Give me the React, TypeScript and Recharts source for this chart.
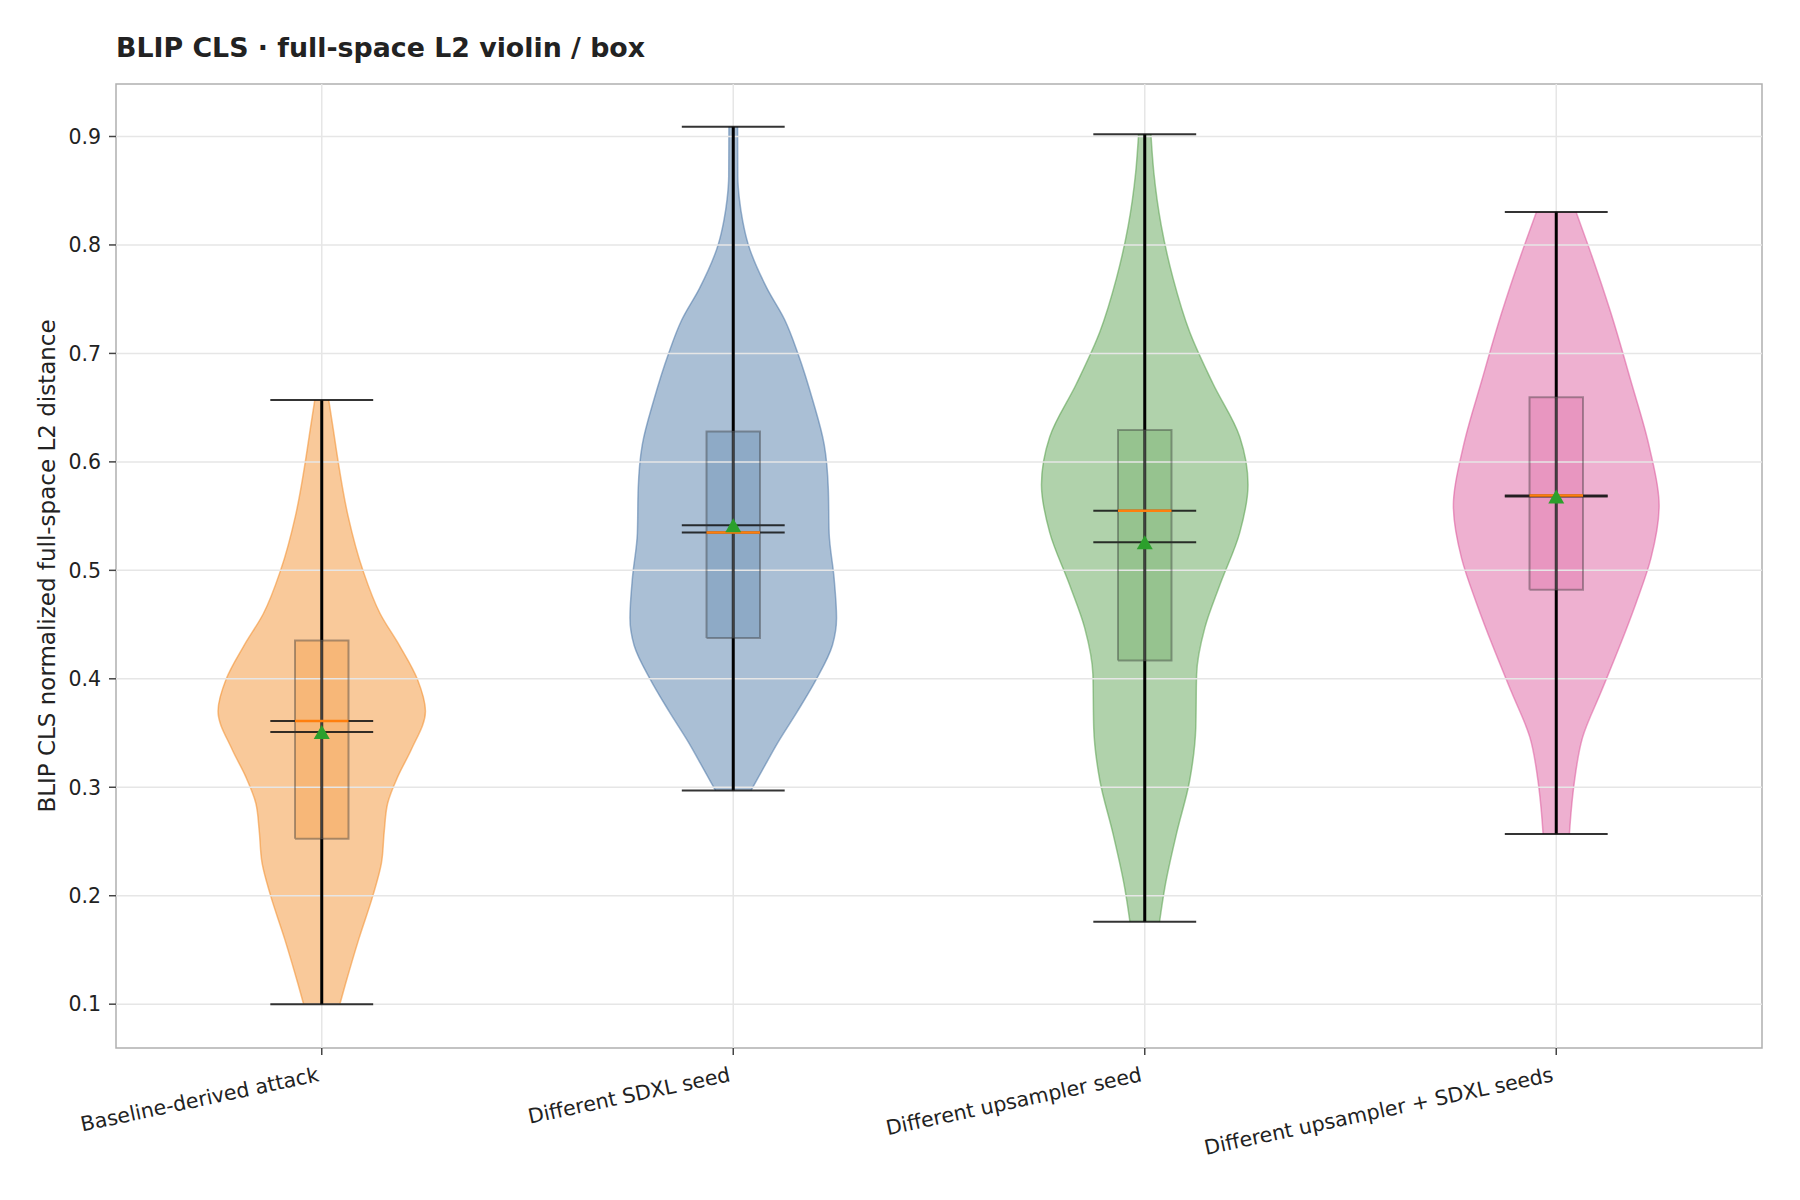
import React from 'react';
import { ComposedChart, Area, Line, XAxis, YAxis, ReferenceLine, ReferenceArea } from 'recharts';

const categories = [
  'Baseline-derived attack',
  'Different SDXL seed',
  'Different upsampler seed',
  'Different upsampler + SDXL seeds',
];
const colors = ['#f28e2b', '#4e79a7', '#59a14f', '#dc5a9c'];

// violin outlines: value -> half width (x units, max 0.25)
const baselineY = [0.1, 0.119, 0.16, 0.201, 0.23, 0.26, 0.285, 0.31, 0.335, 0.37, 0.4, 0.43, 0.46, 0.5, 0.55, 0.6, 0.63, 0.657];
const baselineHalf = [0.044, 0.058, 0.09, 0.125, 0.145, 0.152, 0.16, 0.185, 0.218, 0.252, 0.232, 0.19, 0.142, 0.1, 0.064, 0.04, 0.028, 0.017];

const sdxlY = [0.297, 0.316, 0.341, 0.37, 0.399, 0.431, 0.456, 0.493, 0.534, 0.575, 0.616, 0.657, 0.699, 0.731, 0.76, 0.801, 0.822, 0.842, 0.863, 0.909];
const sdxlHalf = [0.043, 0.071, 0.108, 0.156, 0.201, 0.241, 0.251, 0.245, 0.233, 0.231, 0.221, 0.193, 0.158, 0.125, 0.082, 0.036, 0.023, 0.015, 0.011, 0.0105];

const upY = [0.176, 0.208, 0.257, 0.306, 0.355, 0.404, 0.447, 0.486, 0.535, 0.579, 0.623, 0.672, 0.72, 0.769, 0.818, 0.867, 0.902];
const upHalf = [0.036, 0.049, 0.077, 0.109, 0.124, 0.126, 0.146, 0.182, 0.231, 0.251, 0.231, 0.166, 0.109, 0.069, 0.04, 0.022, 0.015];

const bothY = [0.257, 0.277, 0.305, 0.346, 0.388, 0.429, 0.47, 0.511, 0.56, 0.614, 0.675, 0.737, 0.798, 0.8305];
const bothHalf = [0.032, 0.036, 0.044, 0.064, 0.109, 0.153, 0.194, 0.23, 0.25, 0.226, 0.181, 0.133, 0.079, 0.048];

const violinYs = [baselineY, sdxlY, upY, bothY];
const violinHalves = [baselineHalf, sdxlHalf, upHalf, bothHalf];

const mins = [0.1, 0.297, 0.176, 0.257];
const maxs = [0.657, 0.909, 0.902, 0.8305];
const means = [0.351, 0.5415, 0.526, 0.568];
const medians = [0.361, 0.535, 0.555, 0.569];
const q1s = [0.2526, 0.4376, 0.4168, 0.482];
const q3s = [0.4354, 0.628, 0.6293, 0.6595];

const yTicks = [0.1, 0.2, 0.3, 0.4, 0.5, 0.6, 0.7, 0.8, 0.9];
const Y_MIN = 0.0596;
const Y_MAX = 0.9484;
const CAP = 0.125;
const BOX = 0.065;
const FONT = 'DejaVu Sans';

const XTick = (props: any) => {
  const { x, y, payload } = props;
  const label = categories[Math.round(payload.value) - 1];
  return (
    <text transform={`translate(${x - 2},${y + 24}) rotate(-12)`} textAnchor="end" fontSize={20.5} fontFamily={FONT} fill="#222">
      {label}
    </text>
  );
};

const Tri = (p: any) => {
  const { cx, cy, index } = p;
  if (cx == null || cy == null) return null;
  return <path key={index} d={`M${cx},${cy - 7} L${cx + 8},${cy + 7} L${cx - 8},${cy + 7} Z`} fill="#2ca02c" />;
};

const seg = (key: string, pts: { y: number; v: number }[], stroke: string, width: number, opacity = 1) => (
  <Line
    key={key}
    data={pts}
    dataKey="v"
    type="linear"
    stroke={stroke}
    strokeWidth={width}
    strokeOpacity={opacity}
    dot={false}
    activeDot={false}
    isAnimationActive={false}
  />
);

export default function App() {
  const positions = [1, 2, 3, 4];
  return (
    <div style={{ position: 'absolute', left: 0, top: 0, width: 1800, height: 1200, background: '#fff' }}>
      <div
        style={{
          position: 'absolute',
          left: 116,
          top: 34,
          fontFamily: FONT,
          fontWeight: 'bold',
          fontSize: 26.8,
          lineHeight: '27px',
          color: '#222',
          whiteSpace: 'nowrap',
        }}
      >
        BLIP CLS · full-space L2 violin / box
      </div>
      <div
        style={{
          position: 'absolute',
          left: 47,
          top: 566,
          transform: 'translate(-50%, -50%) rotate(-90deg)',
          fontFamily: FONT,
          fontSize: 23,
          color: '#222',
          whiteSpace: 'nowrap',
        }}
      >
        BLIP CLS normalized full-space L2 distance
      </div>
      <ComposedChart layout="vertical" width={1800} height={1200} margin={{ top: 84, right: 38, bottom: 0, left: 16 }}>
        <XAxis
          type="number"
          domain={[0.5, 4.5]}
          ticks={[1, 2, 3, 4]}
          allowDataOverflow
          height={152}
          axisLine={false}
          tickLine={{ stroke: '#444', strokeWidth: 1.5 }}
          tickSize={7}
          tick={<XTick />}
          interval={0}
        />
        <YAxis
          type="number"
          dataKey="y"
          reversed
          domain={[Y_MIN, Y_MAX]}
          ticks={yTicks}
          allowDataOverflow
          width={100}
          axisLine={false}
          tickLine={{ stroke: '#444', strokeWidth: 1.5 }}
          tickSize={7}
          tickMargin={8}
          tickFormatter={(v: number) => v.toFixed(1)}
          tick={{ fontSize: 20.5, fill: '#222', fontFamily: FONT }}
        />
        {positions.map((pos, i) => (
          <Area
            key={`violin-${i}`}
            data={violinYs[i].map((y, j) => ({ y, v: [pos - violinHalves[i][j], pos + violinHalves[i][j]] }))}
            dataKey="v"
            type="monotone"
            fill={colors[i]}
            fillOpacity={0.48}
            stroke={colors[i]}
            strokeOpacity={0.55}
            strokeWidth={1.5}
            dot={false}
            activeDot={false}
            isAnimationActive={false}
          />
        ))}
        {positions.map((pos, i) => (
          <Area
            key={`box-${i}`}
            data={[
              { y: q1s[i], v: [pos - BOX, pos + BOX] },
              { y: q3s[i], v: [pos - BOX, pos + BOX] },
            ]}
            dataKey="v"
            type="linear"
            fill={colors[i]}
            fillOpacity={0.3}
            stroke="none"
            dot={false}
            activeDot={false}
            isAnimationActive={false}
          />
        ))}
        {yTicks.map((t) => (
          <ReferenceLine key={`gy-${t}`} y={t} stroke="#e6e6e6" strokeWidth={1.5} />
        ))}
        {positions.map((p) => (
          <ReferenceLine key={`gx-${p}`} x={p} stroke="#e6e6e6" strokeWidth={1.5} />
        ))}
        {positions.map((pos, i) =>
          seg(`barlo-${i}`, [{ y: mins[i], v: pos }, { y: q1s[i], v: pos }], '#000', 3)
        )}
        {positions.map((pos, i) =>
          seg(`barmid-${i}`, [{ y: q1s[i], v: pos }, { y: q3s[i], v: pos }], '#000', 3, 0.72)
        )}
        {positions.map((pos, i) =>
          seg(`barhi-${i}`, [{ y: q3s[i], v: pos }, { y: maxs[i], v: pos }], '#000', 3)
        )}
        {positions.map((pos, i) =>
          seg(`cmin-${i}`, [{ y: mins[i], v: pos - CAP }, { y: mins[i], v: pos + CAP }], '#111', 2, 0.85)
        )}
        {positions.map((pos, i) =>
          seg(`cmax-${i}`, [{ y: maxs[i], v: pos - CAP }, { y: maxs[i], v: pos + CAP }], '#111', 2, 0.85)
        )}
        {positions.map((pos, i) =>
          seg(`cmean-${i}`, [{ y: means[i], v: pos - CAP }, { y: means[i], v: pos + CAP }], '#111', 2, 0.85)
        )}
        {positions.map((pos, i) =>
          seg(`cmed-${i}`, [{ y: medians[i], v: pos - CAP }, { y: medians[i], v: pos + CAP }], '#111', 2, 0.85)
        )}
        {positions.map((pos, i) =>
          seg(
            `boxedge-${i}`,
            [
              { y: q1s[i], v: pos - BOX },
              { y: q1s[i], v: pos + BOX },
              { y: q3s[i], v: pos + BOX },
              { y: q3s[i], v: pos - BOX },
              { y: q1s[i], v: pos - BOX },
            ],
            '#333',
            2,
            0.4
          )
        )}
        {positions.map((pos, i) =>
          seg(`omed-${i}`, [{ y: medians[i], v: pos - BOX }, { y: medians[i], v: pos + BOX }], '#ff7f0e', 2.5)
        )}
        <Line
          data={positions.map((pos, i) => ({ y: means[i], v: pos }))}
          dataKey="v"
          stroke="none"
          dot={<Tri />}
          activeDot={false}
          isAnimationActive={false}
        />
        <ReferenceArea x1={0.5} x2={4.5} y1={Y_MIN} y2={Y_MAX} fill="none" stroke="#b0b0b0" strokeWidth={1.5} ifOverflow="visible" />
      </ComposedChart>
    </div>
  );
}
